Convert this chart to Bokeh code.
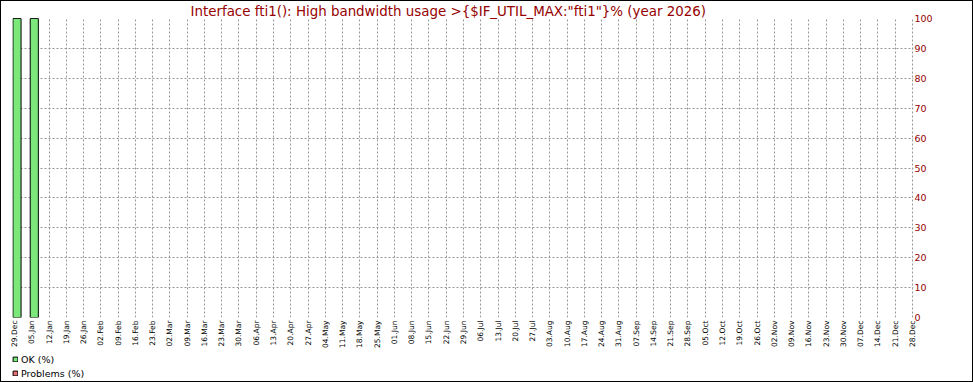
from bokeh.plotting import figure
from bokeh.layouts import column
from bokeh.models import Range1d, FixedTicker, Legend, LegendItem, ColumnDataSource
from bokeh.embed import file_html
from bokeh.resources import INLINE

title = 'Interface fti1(): High bandwidth usage >{$IF_UTIL_MAX:"fti1"}% (year 2026)'
week_labels = [
    "29.Dec", "05.Jan", "12.Jan", "19.Jan", "26.Jan", "02.Feb", "09.Feb", "16.Feb", "23.Feb",
    "02.Mar", "09.Mar", "16.Mar", "23.Mar", "30.Mar", "06.Apr", "13.Apr", "20.Apr", "27.Apr",
    "04.May", "11.May", "18.May", "25.May", "01.Jun", "08.Jun", "15.Jun", "22.Jun", "29.Jun",
    "06.Jul", "13.Jul", "20.Jul", "27.Jul", "03.Aug", "10.Aug", "17.Aug", "24.Aug", "31.Aug",
    "07.Sep", "14.Sep", "21.Sep", "28.Sep", "05.Oct", "12.Oct", "19.Oct", "26.Oct",
    "02.Nov", "09.Nov", "16.Nov", "23.Nov", "30.Nov", "07.Dec", "14.Dec", "21.Dec", "28.Dec",
]
data_weeks = [0, 1]
ok_pct = [100, 100]
problems_pct = [0, 0]
y_ticks = [0, 10, 20, 30, 40, 50, 60, 70, 80, 90, 100]
legend_labels = ["OK (%)", "Problems (%)"]

OK_COLOR = "#7CE87C"
PROB_COLOR = "#E87070"
DARK_RED = "#960000"
GRID = "#969696"

src = ColumnDataSource(dict(
    x=[w + 0.145 for w in data_weeks],
    ok=ok_pct,
    top=[o + p for o, p in zip(ok_pct, problems_pct)],
))

p = figure(frame_width=901, frame_height=299, output_backend="svg", toolbar_location=None,
           x_range=Range1d(-0.116, 52.06), y_range=Range1d(0, 100),
           y_axis_location="right",
           min_border_left=11, min_border_right=59, min_border_top=16, min_border_bottom=35,
           background_fill_color="white", border_fill_color="white",
           outline_line_color=None)

p.title.text = title
p.title.text_font = "DejaVu Sans"
p.title.text_font_size = "13.4px"
p.title.text_font_style = "normal"
p.title.text_color = DARK_RED
p.title.text_line_height = 1.0
p.title.align = "left"
p.title.offset = 178
p.title.standoff = 0

p.vbar(x="x", top="ok", bottom=0, width=0.47, source=src,
       fill_color=OK_COLOR, line_color="black", line_width=1)
p.vbar(x="x", top="top", bottom="ok", width=0.47, source=src,
       fill_color=PROB_COLOR, line_color="black", line_width=1)

xa = p.xaxis[0]
xa.ticker = FixedTicker(ticks=list(range(len(week_labels))))
xa.major_label_overrides = {i: s for i, s in enumerate(week_labels)}
xa.major_label_orientation = 1.5707963
xa.major_label_text_font = "DejaVu Sans"
xa.major_label_text_font_size = "7.5px"
xa.major_label_text_color = "black"
xa.major_label_standoff = 3
xa.axis_line_color = None
xa.major_tick_line_color = None
xa.minor_tick_line_color = None
xa.major_tick_out = 0
xa.major_tick_in = 0

ya = p.yaxis[0]
ya.ticker = FixedTicker(ticks=y_ticks)
ya.major_label_text_font = "DejaVu Sans"
ya.major_label_text_font_size = "9.5px"
ya.major_label_text_color = DARK_RED
ya.major_label_standoff = 1
ya.axis_line_color = None
ya.major_tick_line_color = None
ya.minor_tick_line_color = None
ya.major_tick_out = 0
ya.major_tick_in = 0

p.xgrid.ticker = FixedTicker(ticks=list(range(len(week_labels))))
p.ygrid.ticker = FixedTicker(ticks=y_ticks)
for g in (p.xgrid[0], p.ygrid[0]):
    g.grid_line_color = GRID
    g.grid_line_dash = "2 2"
    g.grid_line_width = 1

# legend strip below the chart (its sample bars lie outside the visible range)
q = figure(width=971, height=29, output_backend="svg", toolbar_location=None,
           x_axis_type=None, y_axis_type=None, min_border=0,
           x_range=Range1d(0, 1), y_range=Range1d(0, 1),
           background_fill_color="white", border_fill_color="white",
           outline_line_color=None)
q.grid.visible = False
sample = ColumnDataSource(dict(x=[-100], top=[-100]))
l_ok = q.vbar(x="x", top="top", width=1, source=sample, fill_color=OK_COLOR, line_color="black")
l_pr = q.vbar(x="x", top="top", width=1, source=sample, fill_color=PROB_COLOR, line_color="black")
legend = Legend(items=[LegendItem(label=legend_labels[0], renderers=[l_ok]),
                       LegendItem(label=legend_labels[1], renderers=[l_pr])],
                location=(0, 2), orientation="vertical",
                glyph_width=6, glyph_height=6, label_height=12, label_standoff=3,
                label_text_font="DejaVu Sans", label_text_font_size="9.5px",
                label_text_color="black",
                spacing=2, padding=0, margin=0,
                border_line_color=None, background_fill_alpha=0)
q.add_layout(legend)

layout = column(p, q, spacing=0, styles={"border": "1px solid black"})
open("out.html", "w").write(file_html(layout, INLINE))
